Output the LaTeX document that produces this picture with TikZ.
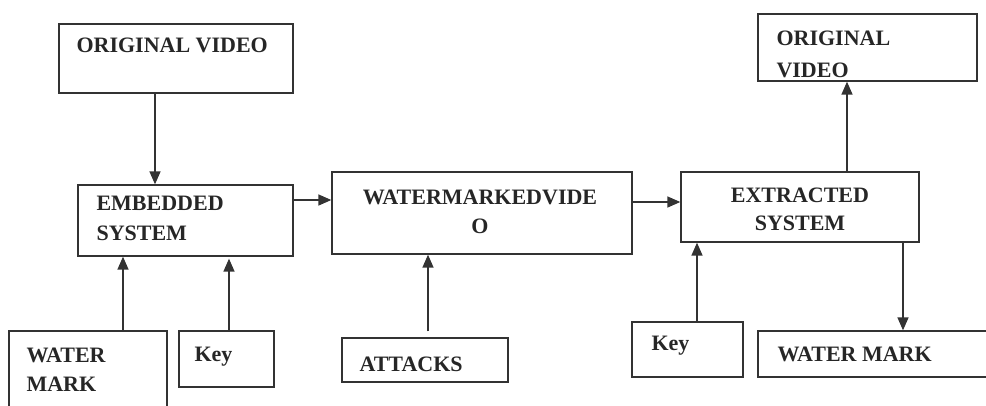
\documentclass[tikz,border=0pt]{standalone}
\usepackage{fontspec}
\setmainfont{Liberation Serif}
\usepackage{tikz}
\usetikzlibrary{arrows.meta}
\usetikzlibrary{positioning}

\begin{document}
\begin{tikzpicture}[x=1pt, y=-1pt,
    blk/.style={draw=black!80, line width=1.3pt, inner sep=0pt},
    lbl/.style={inner sep=0pt, text=black!85, align=left, font=\fontsize{22}{29.5}\selectfont\bfseries},
    arr/.style={draw=black!80, line width=1.4pt, -{Triangle[length=13pt,width=11pt]}}]

        \useasboundingbox (0,0) rectangle (986,405);
        \clip (0,0) rectangle (986,405);

        % boxes
        \node[blk, minimum width=234pt, minimum height=69pt] (ov1) at (176,58.5) {};
        \node[blk, minimum width=215pt, minimum height=71pt] (emb) at (185.5,220.5) {};
        \node[blk, minimum width=300pt, minimum height=82pt] (wmv) at (482,213) {};
        \node[blk, minimum width=238pt, minimum height=70pt] (ext) at (800,207) {};
        \node[blk, minimum width=219pt, minimum height=67pt] (ov2) at (867.5,47.5) {};
        \node[blk, minimum width=158pt, minimum height=89pt] (wm1) at (88,375.5) {};
        \node[blk, minimum width=95pt, minimum height=56pt] (key1) at (226.5,359) {};
        \node[blk, minimum width=166pt, minimum height=44pt] (att) at (425,360) {};
        \node[blk, minimum width=111pt, minimum height=55pt] (key2) at (687.5,349.5) {};
        \node[blk, minimum width=260pt, minimum height=46pt] (wm2) at (888,354) {};

        % texts
        \node[lbl, below right=14pt and 18pt of ov1.north west] (ov1txt) {ORIGINAL VIDEO};
        \node[lbl, below right=12pt and 19pt of emb.north west] (embtxt) {EMBEDDED\\SYSTEM};
        \node[lbl, align=center, below=18pt of wmv.north, xshift=-2pt] (wmvtxt) {WATERMARKEDVIDE\\O};
        \node[lbl, align=center, below=16pt of ext.north, font=\fontsize{22}{28}\selectfont\bfseries] (exttxt) {EXTRACTED\\SYSTEM};
        \node[lbl, below right=17pt and 19pt of ov2.north west, font=\fontsize{22}{32}\selectfont\bfseries] (ov2txt) {ORIGINAL\\VIDEO};
        \node[lbl, below right=17pt and 18pt of wm1.north west] (wm1txt) {WATER\\MARK};
        \node[lbl, below right=17pt and 16pt of key1.north west] (key1txt) {Key};
        \node[lbl, below right=19pt and 18pt of att.north west] (atttxt) {ATTACKS};
        \node[lbl, below right=15pt and 20pt of key2.north west] (key2txt) {Key};
        \node[lbl, below right=16pt and 20pt of wm2.north west] (wm2txt) {WATER MARK};

        % connectors
        \draw[arr] ([xshift=-21pt]ov1.south) -- ([xshift=-30.5pt]emb.north);
        \draw[arr] ([yshift=20.5pt]emb.east) -- ([yshift=13pt]wmv.west);
        \draw[arr] ([yshift=11pt]wmv.east) -- ([yshift=5pt]ext.west);
        \draw[arr] ([xshift=47pt]ext.north) -- ([xshift=-20.5pt]ov2.south);
        \draw[arr] ([xshift=35pt]wm1.north) -- ([xshift=-62.5pt]emb.south);
        \draw[arr, shorten >=2pt] ([xshift=2.5pt]key1.north) -- ([xshift=43.5pt]emb.south);
        \draw[arr, shorten <=6pt] ([xshift=3pt]att.north) -- ([xshift=-54pt]wmv.south);
        \draw[arr] ([xshift=9.5pt]key2.north) -- ([xshift=-103pt]ext.south);
        \draw[arr] ([xshift=103pt]ext.south) -- ([xshift=15pt]wm2.north);

    \end{tikzpicture}
\end{document}
